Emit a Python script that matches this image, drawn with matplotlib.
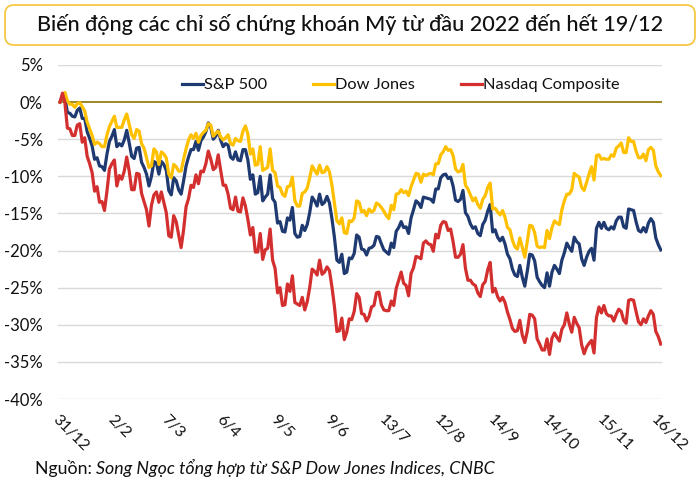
import matplotlib
matplotlib.use("Agg")
import matplotlib.pyplot as plt
import numpy as np
from matplotlib.patches import FancyBboxPatch

plt.rcParams['font.family'] = ['Lato', 'DejaVu Sans']

title = "Biến động các chỉ số chứng khoán Mỹ từ đầu 2022 đến hết 19/12"
source_label = "Nguồn: "
source_text = "Song Ngọc tổng hợp từ S&P Dow Jones Indices, CNBC"
series_names = ["S&P 500", "Dow Jones", "Nasdaq Composite"]
tick_labels = ["31/12", "2/2", "7/3", "6/4", "9/5", "9/6", "13/7", "12/8",
               "14/9", "14/10", "15/11", "16/12"]
tick_step = 22

sp500 = [0.0,
    0.6, 0.6, -1.4, -1.5, -1.9, -2.0, -1.1, -0.8, -2.2, -2.2, -4.0, -4.9, -5.9, -7.7, -7.5, -8.6, -8.7, -9.2, -7.0, -5.3,
    -4.6, -3.7, -6.0, -5.6, -5.9, -5.1, -3.8, -5.5, -7.3, -7.6, -6.2, -6.1, -8.1, -8.8, -9.7, -11.3, -10.0, -8.0, -8.2,
    -9.7, -8.0, -8.4, -9.2, -11.9, -12.5, -10.2, -10.6, -11.8, -12.4, -10.6, -8.6, -7.4, -6.4, -6.4, -5.3, -6.5, -5.2, -4.7, -4.0, -2.8, -3.4, -5.0,
    -4.6, -3.8, -5.1, -6.0, -5.6, -5.8, -7.4, -7.7, -6.7, -7.8, -7.9, -6.4, -6.4, -7.8, -10.4, -9.8, -12.4, -12.2, -10.0, -13.3,
    -12.8, -12.4, -9.8, -13.0, -13.5, -16.3, -16.1, -17.4, -17.5, -15.6, -15.9, -14.2, -17.7, -18.2, -18.1, -16.6, -17.3, -16.5, -14.9, -12.8, -13.3,
    -14.0, -12.4, -13.8, -13.5, -12.7, -13.6, -15.7, -18.2, -21.3, -21.6, -20.5, -23.1, -22.9, -21.0, -21.1, -20.4, -17.9, -18.2, -19.8, -19.9, -20.6,
    -19.7, -19.6, -19.3, -18.1, -18.2, -19.1, -19.9, -20.2, -20.5, -19.0, -19.6, -17.4, -16.9, -16.1, -16.9, -16.8, -17.7, -15.6, -14.5, -13.3,
    -13.6, -14.2, -12.8, -12.9, -13.0, -13.1, -13.5, -11.7, -11.7, -10.2, -9.8, -9.7, -10.3, -10.1, -11.3, -13.2, -13.4, -13.1, -11.9, -14.9, -15.4, -16.4, -17.0,
    -16.8, -17.7, -18.0, -16.5, -15.9, -14.7, -13.8, -17.5, -17.2, -18.2, -18.7, -18.2, -19.1, -20.5, -21.1, -22.5, -23.3, -23.5, -22.0, -23.6, -24.8,
    -22.8, -20.5, -20.6, -21.4, -23.6, -24.2, -24.7, -25.0, -23.0, -24.8, -22.9, -22.0, -22.5, -23.1, -21.3, -20.3, -19.0, -19.6, -20.1, -18.2, -18.8,
    -19.1, -21.1, -22.0, -20.9, -20.1, -19.7, -21.3, -17.0, -16.2, -17.0, -16.2, -17.0, -17.2, -16.8, -17.1, -16.0, -15.5, -15.5, -16.8, -17.0, -14.4,
    -14.5, -14.6, -16.1, -17.3, -17.5, -16.9, -17.5, -16.3, -15.7, -16.2, -18.3, -19.2, -19.9]

dow = [0.0,
    0.7, 1.3, 0.2, -0.3, -0.3, -0.7, -0.2, -0.1, -0.6, -1.2, -2.7, -3.6, -4.5, -5.7, -5.4, -5.6, -6.0, -6.0, -4.4, -3.3,
    -2.6, -1.9, -3.4, -3.4, -3.4, -2.4, -1.6, -3.0, -4.4, -4.9, -3.7, -3.9, -5.6, -6.2, -7.5, -8.8, -8.6, -6.3, -6.7,
    -8.4, -6.7, -7.0, -7.5, -9.7, -10.2, -8.4, -8.7, -9.3, -9.3, -7.7, -6.3, -5.1, -4.4, -4.9, -4.2, -5.4, -4.5, -4.1, -3.8, -2.9, -3.1, -4.6,
    -4.2, -3.9, -4.7, -5.1, -4.8, -4.4, -5.6, -5.8, -4.9, -5.2, -5.3, -3.9, -3.2, -4.3, -7.0, -6.3, -8.5, -8.4, -6.0, -9.2,
    -9.0, -8.8, -6.3, -9.2, -9.5, -11.3, -11.5, -12.4, -12.7, -11.4, -11.3, -10.1, -13.3, -14.0, -14.0, -12.3, -12.1, -11.6, -10.2, -8.6, -9.2,
    -9.7, -8.5, -9.5, -9.4, -8.7, -9.4, -11.2, -13.6, -16.0, -16.4, -15.6, -17.6, -17.7, -16.0, -16.1, -15.6, -13.3, -13.5, -14.8, -14.6, -15.3,
    -14.4, -14.8, -14.6, -13.6, -13.8, -14.2, -14.7, -15.3, -15.7, -13.9, -14.5, -12.4, -12.3, -11.8, -12.2, -12.0, -12.6, -11.4, -10.5, -9.6,
    -9.7, -10.8, -9.7, -9.9, -9.7, -9.6, -9.8, -8.3, -8.3, -7.1, -6.7, -6.0, -6.5, -6.4, -7.2, -9.0, -9.4, -9.3, -8.4, -11.2, -11.7, -12.5, -13.3,
    -12.9, -13.8, -14.3, -13.1, -12.6, -11.5, -10.9, -14.4, -14.3, -14.8, -15.2, -14.6, -15.5, -16.9, -17.2, -18.6, -19.5, -19.8, -18.3, -19.6, -20.9,
    -18.8, -16.6, -16.7, -17.6, -19.4, -19.6, -19.5, -19.6, -17.3, -18.4, -16.9, -16.0, -16.3, -16.5, -14.5, -13.3, -12.4, -12.4, -11.8, -9.6, -9.9,
    -10.1, -11.5, -11.9, -10.8, -9.7, -8.7, -10.5, -7.2, -7.1, -7.7, -7.6, -7.7, -7.7, -7.1, -7.3, -6.2, -5.9, -5.5, -6.8, -6.8, -4.8,
    -5.3, -5.3, -6.6, -7.5, -7.5, -7.0, -7.9, -6.4, -6.1, -6.5, -8.6, -9.4, -9.9]

nasdaq = [0.0,
    1.2, -0.1, -3.5, -3.6, -4.5, -4.5, -3.1, -2.9, -5.4, -4.8, -7.3, -8.3, -9.5, -12.0, -11.4, -13.5, -13.4, -14.6, -12.0, -9.0,
    -8.3, -7.8, -11.3, -9.9, -10.4, -9.3, -7.4, -9.3, -11.8, -11.8, -9.6, -9.7, -12.3, -13.4, -14.5, -16.7, -13.9, -12.5, -12.1,
    -13.5, -12.1, -13.5, -14.9, -18.0, -18.2, -15.3, -16.1, -17.9, -19.6, -17.2, -14.1, -13.0, -11.2, -11.5, -9.8, -11.0, -9.3, -9.4, -8.3, -6.6, -7.7, -9.1,
    -8.8, -7.1, -9.2, -11.2, -11.2, -12.4, -14.3, -14.5, -12.8, -14.7, -14.8, -12.9, -14.0, -15.8, -17.9, -16.9, -20.2, -20.2, -17.7, -21.2,
    -19.9, -19.7, -17.1, -21.3, -22.4, -25.7, -25.0, -27.4, -27.3, -24.5, -25.5, -23.4, -27.0, -27.2, -27.4, -26.3, -28.0, -26.9, -25.0, -22.5, -22.8,
    -23.3, -21.3, -23.2, -22.9, -22.2, -22.7, -24.9, -27.5, -30.9, -30.8, -29.1, -32.0, -31.0, -29.2, -29.3, -28.2, -25.8, -26.3, -28.5, -28.6, -29.5,
    -28.9, -27.6, -27.4, -25.7, -25.6, -27.3, -28.0, -28.1, -28.1, -26.8, -27.4, -25.1, -24.0, -22.9, -24.4, -24.7, -26.1, -23.1, -22.3, -20.8,
    -20.9, -21.1, -19.0, -18.7, -19.1, -19.2, -20.1, -17.8, -18.3, -16.6, -16.1, -16.2, -17.3, -17.1, -18.8, -20.9, -20.9, -20.5, -19.2, -22.4, -24.0, -24.0, -24.5,
    -24.7, -25.7, -26.2, -24.6, -24.2, -22.6, -21.6, -25.6, -25.1, -26.2, -26.8, -26.3, -27.0, -28.3, -29.3, -30.5, -30.9, -30.8, -29.4, -31.4, -32.4,
    -30.9, -28.6, -28.7, -29.2, -31.9, -32.6, -33.4, -33.4, -31.9, -34.0, -31.8, -31.1, -31.7, -32.2, -30.6, -30.0, -28.4, -29.9, -31.0, -29.0, -29.8,
    -30.4, -32.7, -33.9, -33.0, -32.5, -32.1, -33.8, -29.0, -27.6, -28.4, -27.4, -28.5, -28.8, -28.8, -29.5, -28.6, -27.9, -28.2, -29.4, -29.8, -26.7,
    -26.6, -26.7, -28.2, -29.6, -30.0, -29.2, -29.7, -28.8, -28.1, -28.6, -30.9, -31.6, -32.6]

colors = ["#1F3A70", "#FFC000", "#D32F2F"]

fig = plt.figure(figsize=(7, 4.9), dpi=100)

# background axes in pixel coordinates for title box and source
bg = fig.add_axes([0, 0, 1, 1])
bg.set_xlim(0, 700)
bg.set_ylim(0, 490)
bg.axis("off")
box = FancyBboxPatch((5, 445), 690, 40, boxstyle="round,pad=0,rounding_size=9",
                     facecolor="white", edgecolor="#F7C843", linewidth=1.3)
bg.add_patch(box)
bg.text(350, 465, title, ha="center", va="center", fontsize=15.6,
        fontweight="medium", color="#111111")

t1 = bg.text(35, 22, source_label, ha="left", va="center", fontsize=12.8, color="#111111")
fig.canvas.draw()
r = fig.canvas.get_renderer()
bb = t1.get_window_extent(renderer=r)
bg.text(bb.x1, 22, source_text, ha="left", va="center", fontsize=12.8,
        style="italic", color="#111111")

ax = fig.add_axes([58/700, 1-399/490, (662-58)/700, (399-65)/490])
x = np.arange(len(sp500))
for vals, name, c in zip([sp500, dow, nasdaq], series_names, colors):
    ax.plot(x, vals, color=c, lw=2.3, label=name, solid_joinstyle="round", zorder=3)

ax.set_xlim(-0.8, len(sp500) - 0.5)
ax.set_ylim(-40, 5)
yt = np.arange(-40, 6, 5)
ax.set_yticks(yt)
ax.set_yticklabels([f"{v}%" for v in yt], fontsize=12, color="#111111")
for v in yt:
    if v != 0:
        ax.axhline(v, color="#D9D9D9", lw=1.0, zorder=1)
ax.axhline(0, color="#8C7300", lw=1.2, zorder=2)

ax.set_xticks(np.arange(0, len(tick_labels) * tick_step, tick_step))
ax.set_xticklabels(tick_labels, rotation=-45, ha="left", va="top",
                   rotation_mode="anchor", fontsize=11.5, color="#111111")
ax.tick_params(axis="both", length=0)
ax.tick_params(axis="x", pad=10)
ax.tick_params(axis="y", pad=11)
for s in ax.spines.values():
    s.set_visible(False)

leg = ax.legend(loc="center", bbox_to_anchor=(0.568, 0.94), ncol=3, frameon=False,
                fontsize=11.8, handlelength=1.25, handletextpad=0.1, columnspacing=2.8,
                borderaxespad=0)
for t in leg.get_texts():
    t.set_color("#111111")

fig.savefig("out.png", dpi=100)
